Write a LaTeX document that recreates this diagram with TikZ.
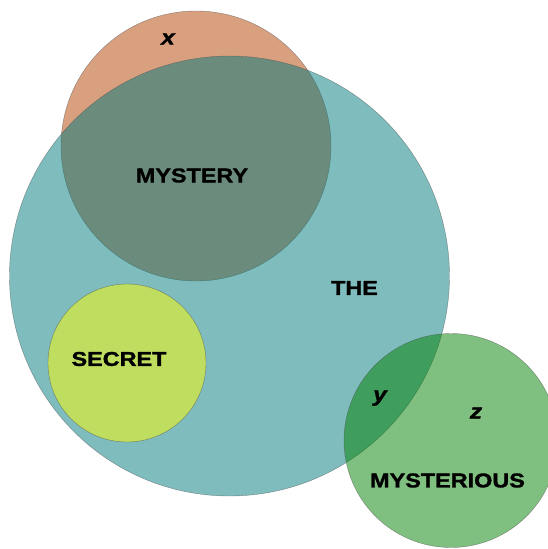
\documentclass[tikz,border=0pt]{standalone}
\usepackage{fontspec}
\setmainfont{Liberation Sans}
\newfontfamily\heavyfont[FakeStretch=1.17, FakeBold=1.4]{Liberation Sans}
\definecolor{SetOrange}{RGB}{179,65,1}
\definecolor{SetTeal}{RGB}{0,121,123}
\definecolor{SetYellow}{RGB}{255,255,0}
\definecolor{SetGreen}{RGB}{0,127,0}
\usetikzlibrary{positioning}

\begin{document}
\begin{tikzpicture}[x=1pt, y=-1pt,
    setdisc/.style={circle, draw=black!70, line width=0.4pt, draw opacity=0.6,
                    fill opacity=0.5, inner sep=0pt},
    word/.style={font=\heavyfont\fontsize{20}{20}\selectfont\bfseries, inner sep=0pt},
    letter/.style={font=\heavyfont\fontsize{21}{21}\selectfont\bfseries\itshape, inner sep=0pt}]
  \useasboundingbox (0,0) rectangle (548,549);
  \begin{scope}
    \clip (0,0) rectangle (548,549);
    \node[setdisc, fill=SetOrange, minimum size=270pt] (mystery) at (196,146) {};
    \node[setdisc, fill=SetTeal, minimum size=440pt] (the) at (229.5,276) {};
    \node[setdisc, fill=SetYellow, minimum size=158pt] (secret) at (127,363) {};
    \node[setdisc, fill=SetGreen, minimum size=214pt] (mysterious) at (451,440.5) {};
  \end{scope}

  \node[word] (mysterylbl) at (192,175.5) {MYSTERY};
  \node[word] (thelbl) at (354.5,288) {THE};
  \node[word] (secretlbl) at (119,359) {SECRET};
  \node[word] (mysteriouslbl) at (447.5,480.5) {MYSTERIOUS};
  \node[letter] (xlbl) at (168,39) {x};
  \node[letter] (ylbl) at (380,398) {y};
  \node[letter] (zlbl) at (476,413) {z};
\end{tikzpicture}
\end{document}
